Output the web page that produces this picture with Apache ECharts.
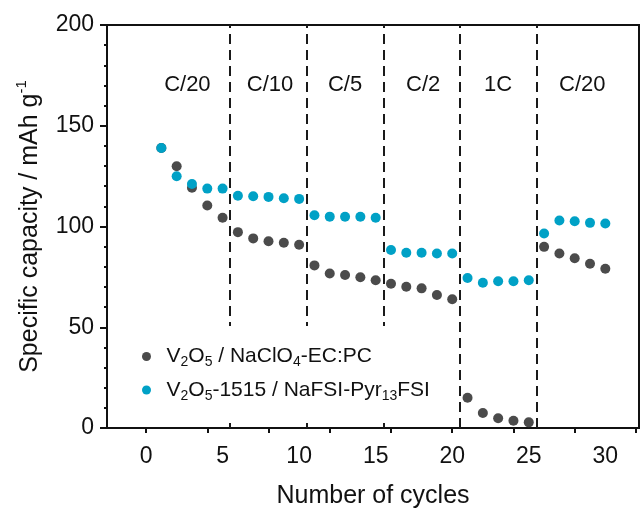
<!DOCTYPE html>
<html>
<head>
<meta charset="utf-8">
<script src="https://cdn.jsdelivr.net/npm/echarts@6/dist/echarts.min.js"></script>
<style>
  html, body { margin: 0; padding: 0; background: #fff; }
  #chart { width: 644px; height: 508px; }
</style>
</head>
<body>
<div id="chart"></div>
<script>
// cycle numbers and capacities (mAh/g)
var cycles = [1, 2, 3, 4, 5, 6, 7, 8, 9, 10, 11, 12, 13, 14, 15, 16, 17, 18, 19, 20, 21, 22, 23, 24, 25, 26, 27, 28, 29, 30];
var capacityEcPc = [139, 129.9, 119.2, 110.4, 104.3, 97.2, 94.1, 92.7, 91.9, 90.9, 80.7, 76.7, 75.9, 74.8, 73.3, 71.6, 70.1, 69.3, 66, 63.9, 15, 7.4, 4.8, 3.6, 2.8, 89.9, 86.6, 84.2, 81.5, 79];
var capacityPyr = [139, 124.9, 121.1, 118.8, 118.8, 115.3, 115, 114.7, 114, 113.7, 105.6, 104.9, 104.8, 104.8, 104.3, 88.3, 87, 87, 86.6, 86.6, 74.4, 72.1, 72.8, 72.8, 73.3, 96.5, 103, 102.6, 101.8, 101.5];

// C-rate blocks
var dividers = [5.5, 10.5, 15.5, 20.5, 25.5];
var rateLabels = ['C/20', 'C/10', 'C/5', 'C/2', '1C', 'C/20'];
var rateLabelX = [2.7, 8.1, 13.0, 18.1, 23.0, 28.5];
var rateLabelY = 170.5;

var xLabelTicks = [0, 5, 10, 15, 20, 25, 30];
var xMarkTicks = [0, 4, 8, 12, 16, 20, 24, 28, 32];

var seriesNames = ['V2O5 / NaClO4-EC:PC', 'V2O5-1515 / NaFSI-Pyr13FSI'];

var chartDom = document.getElementById('chart');
var myChart = echarts.init(chartDom);

var font = 'Arial, "Liberation Sans", sans-serif';
var black = '#111';
var gray = '#4b4b4b';
var blue = '#00a1c6';

function pairs(ys) {
  return cycles.map(function (c, i) { return [c, ys[i]]; });
}

var option = {
  animation: false,
  backgroundColor: '#fff',
  grid: {
    left: 107, right: 5, top: 25, bottom: 80,
    outerBoundsMode: 'none',
    show: true,
    borderColor: black,
    borderWidth: 2
  },
  legend: {
    orient: 'vertical',
    left: 132,
    top: 326,
    z: 10,
    padding: [20, 10, 20, 10],
    backgroundColor: '#fff',
    itemWidth: 30,
    itemHeight: 9,
    itemGap: 10,
    icon: 'circle',
    data: seriesNames,
    formatter: function (name) {
      // subscripts through rich text
      if (name === seriesNames[0]) {
        return '{t|V}{s|2}{t|O}{s|5}{t| / NaClO}{s|4}{t|-EC:PC}';
      }
      return '{t|V}{s|2}{t|O}{s|5}{t|-1515 / NaFSI-Pyr}{s|13}{t|FSI}';
    },
    textStyle: {
      fontFamily: font,
      color: black,
      rich: {
        t: { fontSize: 21, lineHeight: 26, fontFamily: font, color: black },
        s: { fontSize: 14, lineHeight: 14, verticalAlign: 'bottom', fontFamily: font, color: black }
      }
    }
  },
  xAxis: {
    type: 'value',
    min: -2.55,
    max: 32.2,
    name: 'Number of cycles',
    nameLocation: 'middle',
    nameGap: 56,
    nameTextStyle: { fontSize: 25, fontFamily: font, color: black },
    axisLine: { show: true, onZero: false, lineStyle: { color: black, width: 2 } },
    axisTick: { show: true, customValues: xMarkTicks, length: 5, lineStyle: { color: black, width: 2 } },
    axisLabel: { customValues: xLabelTicks, fontSize: 23, fontFamily: font, color: black, margin: 17 },
    splitLine: { show: false }
  },
  yAxis: {
    type: 'value',
    min: 0,
    max: 200,
    interval: 50,
    name: 'Specific capacity / mAh g{sup|-1}',
    nameLocation: 'middle',
    nameGap: 62,
    nameTextStyle: {
      fontSize: 25, fontFamily: font, color: black, lineHeight: 30,
      rich: {
        sup: { fontSize: 15, lineHeight: 15, verticalAlign: 'top', fontFamily: font, color: black }
      }
    },
    axisLine: { show: true, onZero: false, lineStyle: { color: black, width: 2 } },
    axisTick: { show: true, length: 7, lineStyle: { color: black, width: 2 } },
    minorTick: { show: true, splitNumber: 5, length: 3, lineStyle: { color: black, width: 2 } },
    axisLabel: { fontSize: 23, fontFamily: font, color: black, margin: 13 },
    splitLine: { show: false }
  },
  series: [
    {
      name: seriesNames[0],
      type: 'scatter',
      symbolSize: 10,
      itemStyle: { color: gray, opacity: 1 },
      data: pairs(capacityEcPc),
      z: 3,
      markLine: {
        silent: true,
        symbol: 'none',
        label: { show: false },
        lineStyle: { color: '#1a1a1a', width: 2, type: [10, 6] },
        data: dividers.map(function (v) { return { xAxis: v }; })
      }
    },
    {
      name: seriesNames[1],
      type: 'scatter',
      symbolSize: 10,
      itemStyle: { color: blue, opacity: 1 },
      data: pairs(capacityPyr),
      z: 6
    },
    {
      name: 'rates',
      type: 'scatter',
      symbolSize: 1,
      silent: true,
      itemStyle: { color: 'rgba(0,0,0,0)', opacity: 1 },
      label: {
        show: true,
        position: 'inside',
        fontSize: 22,
        fontFamily: font,
        color: black,
        formatter: function (p) { return p.value[2]; }
      },
      data: rateLabels.map(function (t, i) { return [rateLabelX[i], rateLabelY, t]; })
    }
  ]
};

myChart.setOption(option);
</script>
</body>
</html>
